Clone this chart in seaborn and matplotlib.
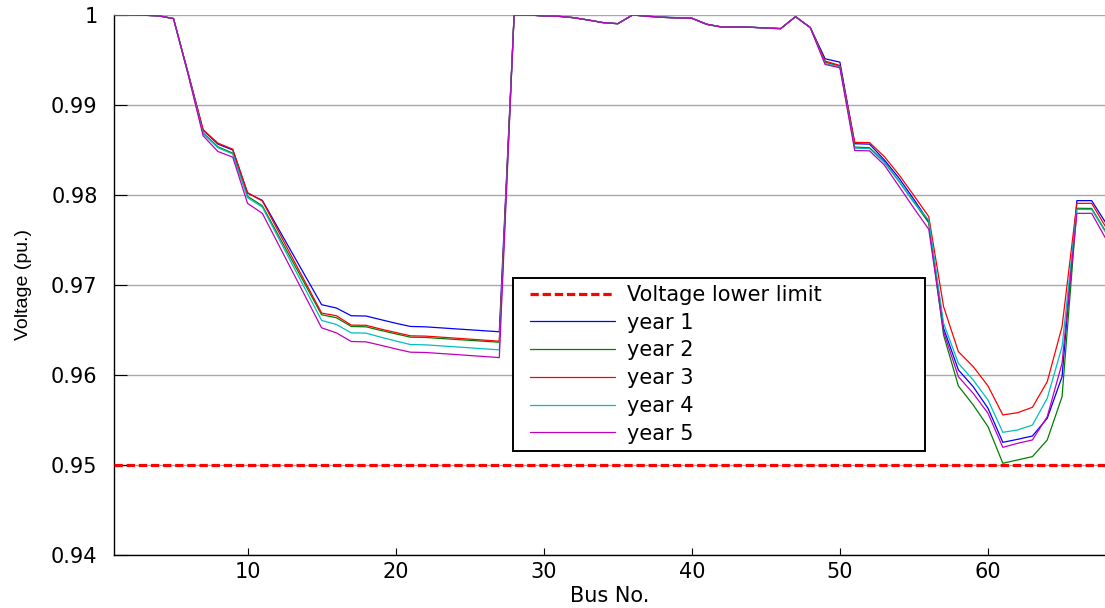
import matplotlib
matplotlib.use("Agg")
import matplotlib.pyplot as plt
import seaborn as sns
import pandas as pd
import numpy as np
from matplotlib.lines import Line2D
from matplotlib.legend_handler import HandlerLine2D

buses = list(range(1, 69))

year1 = [1.0, 1.0, 0.99997, 0.9999, 0.9996, 0.99345, 0.9872, 0.98565, 0.985, 0.9802,
         0.9794, 0.9765, 0.9736, 0.9707, 0.96781, 0.96744, 0.96658, 0.96655, 0.96615, 0.96575,
         0.96539, 0.96535, 0.96524, 0.96513, 0.96502, 0.96491, 0.9648, 1.0, 1.0, 0.99989,
         0.99985, 0.9997, 0.99944, 0.99915, 0.99903, 1.0, 0.99987, 0.99976, 0.9997, 0.99966,
         0.99898, 0.99868, 0.99867, 0.99864, 0.99856, 0.99849, 0.99981, 0.99862, 0.99513, 0.99476,
         0.98569, 0.98565, 0.9839, 0.98185, 0.9795, 0.97704, 0.96519, 0.96056, 0.9587, 0.9563,
         0.95252, 0.95285, 0.95322, 0.95519, 0.95981, 0.97937, 0.97937, 0.97678]
year2 = [1.0, 1.0, 0.99997, 0.9999, 0.9996, 0.9934, 0.9869, 0.98535, 0.98465, 0.97985,
         0.9788, 0.97577, 0.97274, 0.96972, 0.96669, 0.96636, 0.96539, 0.96535, 0.96495, 0.96457,
         0.9642, 0.96417, 0.96406, 0.96395, 0.96385, 0.96374, 0.96364, 1.0, 1.0, 0.99989,
         0.99985, 0.9997, 0.99944, 0.99915, 0.99903, 1.0, 0.99985, 0.99974, 0.99967, 0.99963,
         0.99896, 0.99866, 0.99866, 0.99863, 0.99855, 0.99848, 0.99981, 0.99859, 0.99476, 0.9943,
         0.98532, 0.98525, 0.9837, 0.9815, 0.9792, 0.9769, 0.96444, 0.95878, 0.95667, 0.95426,
         0.95019, 0.95056, 0.95093, 0.95278, 0.95759, 0.97852, 0.9785, 0.97581]
year3 = [1.0, 1.0, 0.99997, 0.9999, 0.9996, 0.9935, 0.98725, 0.98576, 0.98509, 0.98026,
         0.97933, 0.97622, 0.97311, 0.97, 0.96688, 0.96658, 0.96554, 0.96552, 0.9651, 0.96472,
         0.96435, 0.96432, 0.96421, 0.9641, 0.96398, 0.96387, 0.96375, 1.0, 1.0, 0.99989,
         0.99985, 0.9997, 0.99944, 0.99915, 0.99903, 1.0, 0.99985, 0.99974, 0.99967, 0.99963,
         0.99896, 0.99866, 0.99866, 0.99863, 0.99855, 0.99848, 0.99981, 0.99859, 0.99487, 0.99439,
         0.98584, 0.98582, 0.98426, 0.98222, 0.97993, 0.97759, 0.96759, 0.96259, 0.96093, 0.95878,
         0.95556, 0.95581, 0.95641, 0.95926, 0.96537, 0.97907, 0.97907, 0.9763]
year4 = [1.0, 1.0, 0.99997, 0.9999, 0.9996, 0.99335, 0.9868, 0.98525, 0.98455, 0.9797,
         0.97865, 0.9755, 0.97235, 0.96921, 0.96606, 0.96561, 0.96468, 0.96465, 0.9642, 0.96378,
         0.96338, 0.96335, 0.96324, 0.96313, 0.96302, 0.9629, 0.96279, 1.0, 1.0, 0.99989,
         0.99985, 0.9997, 0.99944, 0.99915, 0.99903, 1.0, 0.99985, 0.99974, 0.99967, 0.99963,
         0.99896, 0.99866, 0.99866, 0.99863, 0.99855, 0.99848, 0.99981, 0.99859, 0.99461, 0.99422,
         0.9852, 0.98515, 0.9836, 0.98148, 0.97915, 0.9772, 0.96574, 0.9613, 0.95944, 0.95722,
         0.95363, 0.95389, 0.95444, 0.95741, 0.96315, 0.9784, 0.97838, 0.9757]
year5 = [1.0, 1.0, 0.99997, 0.9999, 0.9996, 0.9933, 0.98658, 0.98483, 0.9842, 0.97907,
         0.97796, 0.97478, 0.9716, 0.96842, 0.96524, 0.96468, 0.96372, 0.96368, 0.9633, 0.9629,
         0.96253, 0.9625, 0.96239, 0.96228, 0.96216, 0.96205, 0.96193, 1.0, 1.0, 0.99989,
         0.99985, 0.9997, 0.99944, 0.99915, 0.99903, 1.0, 0.99985, 0.99974, 0.99967, 0.99963,
         0.99896, 0.99866, 0.99866, 0.99863, 0.99855, 0.99848, 0.99981, 0.99859, 0.9945, 0.99413,
         0.98494, 0.9849, 0.98333, 0.98093, 0.97852, 0.97619, 0.96481, 0.95981, 0.95796, 0.95574,
         0.95196, 0.95241, 0.95278, 0.95537, 0.9613, 0.97796, 0.97796, 0.975]

year_names = ["year 1", "year 2", "year 3", "year 4", "year 5"]
year_colors = ["#0000FF", "#008000", "#FF0000", "#00BFBF", "#BF00BF"]
lower_limit = 0.95
limit_label = "Voltage lower limit"
y_ticks = [0.94, 0.95, 0.96, 0.97, 0.98, 0.99, 1.0]
y_tick_labels = ["0.94", "0.95", "0.96", "0.97", "0.98", "0.99", "1"]
x_ticks = [10, 20, 30, 40, 50, 60]

sns.set_theme(style="white")
plt.rcParams["font.family"] = ["DejaVu Sans"]
plt.rcParams["text.color"] = "black"
plt.rcParams["axes.labelcolor"] = "black"

df = pd.DataFrame({
    "bus": buses * 5,
    "voltage": year1 + year2 + year3 + year4 + year5,
    "year": sum([[n] * len(buses) for n in year_names], []),
})

fig = plt.figure(figsize=(11.05, 6.08), dpi=100)
ax = fig.add_axes([0.1034, 0.0872, 0.8966, 0.8882])

dash = (0, (2.6, 1.2))
ax.axhline(lower_limit, color="#FF0000", lw=2.3, ls=dash, zorder=3)
sns.lineplot(data=df, x="bus", y="voltage", hue="year", hue_order=year_names,
             palette=dict(zip(year_names, year_colors)), lw=0.9, ax=ax,
             legend=False, zorder=4)

ax.set_xlim(1, 67.9)
ax.set_ylim(0.94, 1.0)
ax.set_yticks(y_ticks)
ax.set_yticklabels(y_tick_labels)
ax.set_xticks(x_ticks)
ax.yaxis.grid(True, color="#a9a9a9", lw=1.0, ls="-")
ax.xaxis.grid(False)
ax.set_axisbelow(True)
for s in ["top", "right"]:
    ax.spines[s].set_visible(False)
for s in ["left", "bottom"]:
    ax.spines[s].set_color("black")
    ax.spines[s].set_linewidth(1.0)
ax.tick_params(axis="x", direction="in", length=5, width=0.8, colors="black",
               labelsize=15, pad=5)
ax.tick_params(axis="y", direction="in", length=9, width=0.8, colors="black",
               labelsize=15, pad=12)
ax.tick_params(left=True, bottom=True)
ax.set_xlabel("Bus No.", fontsize=15, color="black", labelpad=3)
ax.set_ylabel("Voltage (pu.)", fontsize=14, color="black", labelpad=14,
              family=["Liberation Sans", "DejaVu Sans"])


class OffsetLineHandler(HandlerLine2D):
    """Line handle that starts a few points into the handle box."""
    def __init__(self, offset, **kw):
        super().__init__(**kw)
        self.offset = offset

    def get_xdata(self, legend, xdescent, ydescent, width, height, fontsize):
        xd = np.array([-xdescent + self.offset, -xdescent + width], float)
        return xd, xd


handles = [Line2D([], [], color="#FF0000", lw=2.3, ls=dash)]
handles += [Line2D([], [], color=c, lw=0.9) for c in year_colors]
labels = [limit_label] + year_names
hmap = {h: OffsetLineHandler(6.5) for h in handles}
leg = ax.legend(handles, labels, loc="upper left", handler_map=hmap,
                bbox_to_anchor=(0.4027, 0.1926, 0.4156, 0.3209), mode="expand",
                fontsize=15, frameon=True, fancybox=False, framealpha=1,
                edgecolor="black", handlelength=4.55, handletextpad=0.58,
                labelspacing=0.37, borderpad=0.35, borderaxespad=0)
leg.get_frame().set_linewidth(1.4)
leg.set_zorder(10)
for t in leg.get_texts():
    t.set_color("black")

fig.savefig("out.png", dpi=100)
